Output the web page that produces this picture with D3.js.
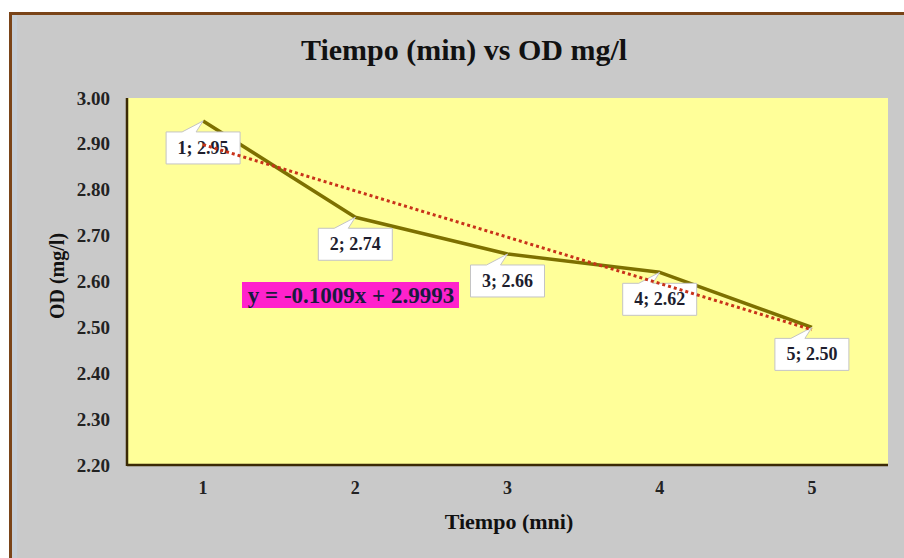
<!DOCTYPE html>
<html><head><meta charset="utf-8">
<script src="https://cdn.jsdelivr.net/npm/d3@7"></script>
<style>
html,body{margin:0;padding:0;background:#fff;}
svg{display:block;}
text{font-family:"Liberation Serif","Times New Roman",serif;font-weight:bold;}
</style></head>
<body>
<script>
// ---- data ----
const categories = ["1", "2", "3", "4", "5"];
const odValues = [2.95, 2.74, 2.66, 2.62, 2.50];
const yTicks = [2.20, 2.30, 2.40, 2.50, 2.60, 2.70, 2.80, 2.90, 3.00];
const trendSlope = -0.1009;
const trendIntercept = 2.9993;
const titleText = "Tiempo (min) vs OD mg/l";
const xTitle = "Tiempo (mni)";
const yTitle = "OD (mg/l)";
const equationText = "y = -0.1009x + 2.9993";

const W = 904, H = 558;
const plot = {left: 127, top: 98, right: 888, bottom: 465};

const svg = d3.select("body").append("svg").attr("width", W).attr("height", H);

// outer chart frame
svg.append("rect").attr("x", 0).attr("y", 0).attr("width", W).attr("height", H).attr("fill", "#fff");
svg.append("rect").attr("x", 9).attr("y", 12).attr("width", W).attr("height", H).attr("fill", "#c9c9c9");
svg.append("rect").attr("x", 12).attr("y", 15).attr("width", 5).attr("height", H).attr("fill", "#c6ced6");
svg.append("line").attr("x1", 10.5).attr("x2", 10.5).attr("y1", 12).attr("y2", H).attr("stroke", "#7a4418").attr("stroke-width", 3);
svg.append("line").attr("x1", 9).attr("x2", W).attr("y1", 13.5).attr("y2", 13.5).attr("stroke", "#7a4418").attr("stroke-width", 3);

const x = d3.scaleBand().domain(categories).range([plot.left, plot.right]).padding(0);
const y = d3.scaleLinear().domain([2.2, 3.0]).range([plot.bottom, plot.top]);
const cx = c => x(c) + x.bandwidth() / 2;

// plot area
svg.append("rect").attr("x", plot.left).attr("y", plot.top)
  .attr("width", plot.right - plot.left).attr("height", plot.bottom - plot.top)
  .attr("fill", "#ffff99");

// axes
const yAxis = d3.axisLeft(y).tickValues(yTicks).tickFormat(d3.format(".2f")).tickSize(0).tickPadding(17);
const gy = svg.append("g").attr("transform", `translate(${plot.left},0)`).call(yAxis);
gy.select(".domain").remove();
gy.selectAll("text").attr("font-size", 19).attr("fill", "#222");

const xAxis = d3.axisBottom(x).tickSize(0).tickPadding(16);
const gx = svg.append("g").attr("transform", `translate(0,${plot.bottom})`).call(xAxis);
gx.select(".domain").remove();
gx.selectAll("text").attr("font-size", 18).attr("fill", "#222");

svg.append("line").attr("x1", plot.left).attr("x2", plot.left).attr("y1", plot.top).attr("y2", plot.bottom + 1)
  .attr("stroke", "#3b2a05").attr("stroke-width", 2.5);
svg.append("line").attr("x1", plot.left).attr("x2", plot.right).attr("y1", plot.bottom).attr("y2", plot.bottom)
  .attr("stroke", "#3b2a05").attr("stroke-width", 2.5);

// data line
const line = d3.line().x((d, i) => cx(categories[i])).y(d => y(d));
svg.append("path").datum(odValues).attr("d", line)
  .attr("fill", "none").attr("stroke", "#7d7000").attr("stroke-width", 3.5).attr("stroke-linejoin", "round");

// data labels with callouts
const fmt = d3.format(".2f");
const lbl = svg.append("g");
odValues.forEach((v, i) => {
  const px = cx(categories[i]), py = y(v);
  const bw = 74, bh = 32;
  const bx = px - bw / 2, by = py + 11;
  const path = `M${bx},${by} L${bx + 16},${by} L${px},${py} L${bx + 30},${by} L${bx + bw},${by} L${bx + bw},${by + bh} L${bx},${by + bh} Z`;
  lbl.append("path").attr("d", path).attr("fill", "#fff").attr("stroke", "#c4c4c4").attr("stroke-width", 1);
  lbl.append("text").attr("x", px).attr("y", by + bh / 2 + 6).attr("text-anchor", "middle")
    .attr("font-size", 18).attr("fill", "#1e1e2e").text(`${categories[i]}; ${fmt(v)}`);
});

// trend line
const trend = categories.map((c, i) => trendIntercept + trendSlope * (i + 1));
const tline = d3.line().x((d, i) => cx(categories[i])).y(d => y(d));
svg.append("path").datum(trend).attr("d", tline)
  .attr("fill", "none").attr("stroke", "#c8321a").attr("stroke-width", 3).attr("stroke-dasharray", "3,3");

// equation box
svg.append("rect").attr("x", 242).attr("y", 282).attr("width", 217).attr("height", 26).attr("fill", "#ff22cc");
svg.append("text").attr("x", 351).attr("y", 303).attr("text-anchor", "middle").attr("font-size", 23)
  .attr("fill", "#1a1a40").text(equationText);

// titles
svg.append("text").attr("x", 464).attr("y", 60).attr("text-anchor", "middle").attr("font-size", 30)
  .attr("fill", "#111").text(titleText);
svg.append("text").attr("x", 509).attr("y", 529).attr("text-anchor", "middle").attr("font-size", 22)
  .attr("fill", "#111").text(xTitle);
svg.append("text").attr("transform", "translate(64,276) rotate(-90)").attr("text-anchor", "middle")
  .attr("font-size", 20).attr("fill", "#111").text(yTitle);
</script>
</body></html>
